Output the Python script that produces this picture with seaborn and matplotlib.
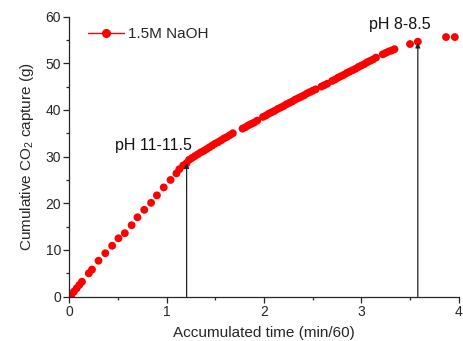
import numpy as np
import pandas as pd
import seaborn as sns
import matplotlib.pyplot as plt
from matplotlib.lines import Line2D
from matplotlib.ticker import MultipleLocator

# accumulated time (min/60) and cumulative CO2 capture (g)
time_h = [0.02, 0.048, 0.076, 0.103, 0.13, 0.20, 0.233, 0.30, 0.37, 0.44,
          0.505, 0.57, 0.64, 0.70, 0.77, 0.84, 0.90, 0.97, 1.04, 1.10,
          1.13, 1.17, 1.205,
          1.23, 1.26, 1.29, 1.32, 1.35, 1.38, 1.41, 1.44, 1.47, 1.50,
          1.53, 1.56, 1.59, 1.62, 1.65, 1.68,
          1.78, 1.81, 1.84, 1.87, 1.90, 1.93,
          1.99, 2.02, 2.05, 2.08, 2.11, 2.14, 2.17, 2.20, 2.23, 2.26,
          2.29, 2.32, 2.35, 2.38, 2.41, 2.44, 2.47, 2.50, 2.53,
          2.59, 2.62, 2.65,
          2.70, 2.73, 2.76, 2.79, 2.82, 2.85, 2.88, 2.91, 2.94, 2.97,
          3.00, 3.03, 3.06, 3.09, 3.12, 3.15,
          3.22, 3.25, 3.28, 3.31, 3.34,
          3.50, 3.58, 3.87, 3.96]
co2_g = [0.3, 1.1, 1.8, 2.5, 3.2, 5.0, 5.8, 7.7, 9.3, 10.9,
         12.5, 13.6, 15.3, 17.0, 18.6, 20.1, 21.7, 23.4, 25.0, 26.4,
         27.3, 28.1, 28.6,
         29.3, 29.7, 30.1, 30.5, 30.9, 31.2, 31.6, 32.0, 32.4, 32.8,
         33.1, 33.5, 33.9, 34.2, 34.6, 35.0,
         36.0, 36.3, 36.7, 37.0, 37.3, 37.7,
         38.5, 38.8, 39.2, 39.5, 39.8, 40.2, 40.5, 40.8, 41.2, 41.5,
         41.8, 42.2, 42.5, 42.8, 43.1, 43.5, 43.8, 44.1, 44.4,
         45.0, 45.3, 45.6,
         46.2, 46.5, 46.9, 47.2, 47.5, 47.9, 48.2, 48.5, 48.8, 49.2,
         49.5, 49.8, 50.2, 50.5, 50.8, 51.2,
         51.9, 52.2, 52.5, 52.7, 53.0,
         54.1, 54.6, 55.6, 55.6]

# pH change markers
ph_labels = ['pH 11-11.5', 'pH 8-8.5']
ph_time = [1.205, 3.58]
ph_co2 = [28.6, 54.4]
ph_label_pos = [(0.865, 32.3), (3.40, 58.2)]

df = pd.DataFrame({'time': time_h, 'co2': co2_g})

sns.set_style('ticks')
plt.rcParams['font.family'] = ['Liberation Sans', 'DejaVu Sans']
plt.rcParams['mathtext.default'] = 'regular'

fig = plt.figure(figsize=(4.63, 3.41), dpi=100)
ax = fig.add_axes([0.1497, 0.130, 0.841, 0.8216])

sns.scatterplot(data=df, x='time', y='co2', color='#ff0000', s=32,
                edgecolor='none', legend=False, ax=ax)

for lab, t, c, pos in zip(ph_labels, ph_time, ph_co2, ph_label_pos):
    ax.annotate('', xy=(t, c), xytext=(t, 0),
                arrowprops=dict(arrowstyle='-|>', color='#222222', lw=0.9,
                                mutation_scale=7, shrinkA=0, shrinkB=0))
    ax.text(pos[0], pos[1], lab, ha='center', va='center', fontsize=11.5, color='#111111')

ax.set_xlim(0, 4)
ax.set_ylim(0, 60)
ax.xaxis.set_major_locator(MultipleLocator(1))
ax.xaxis.set_minor_locator(MultipleLocator(0.5))
ax.yaxis.set_major_locator(MultipleLocator(10))
ax.yaxis.set_minor_locator(MultipleLocator(5))
ax.tick_params(which='major', direction='out', length=4, width=0.9, labelsize=10, pad=2)
ax.tick_params(which='minor', direction='out', length=2.5, width=0.9)
for side in ['left', 'bottom']:
    ax.spines[side].set_linewidth(0.9)
sns.despine(ax=ax)

ax.set_xlabel('Accumulated time (min/60)', fontsize=11, labelpad=5)
ax.set_ylabel('Cumulative CO$_2$ capture (g)', fontsize=11, labelpad=7)

handle = Line2D([], [], color='#ff0000', marker='o', markersize=5.5, lw=1)
ax.legend([handle], ['1.5M NaOH'], loc='upper left', frameon=False, fontsize=11,
          handlelength=2.4, handletextpad=0.2, borderaxespad=0.3,
          bbox_to_anchor=(0.02, 1.0))

fig.savefig('out.png', dpi=100)
